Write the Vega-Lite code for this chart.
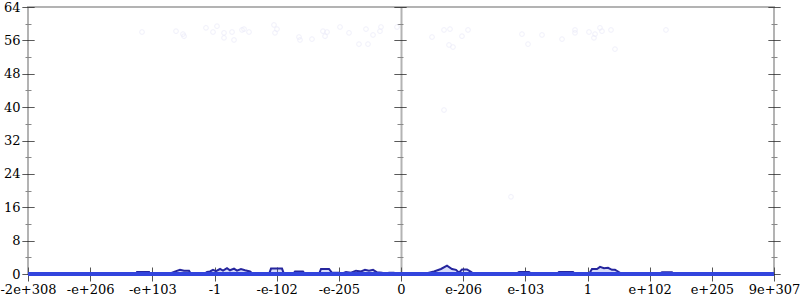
{
  "$schema": "https://vega.github.io/schema/vega-lite/v6.json",
  "width": 746,
  "height": 267,
  "autosize": {"type": "none"},
  "padding": {"left": 28, "top": 7, "right": 26, "bottom": 26},
  "config": {
    "view": {"stroke": "#b3b3b3", "strokeWidth": 2},
    "font": "DejaVu Serif",
    "axis": {"labelFont": "DejaVu Serif", "labelFontSize": 13, "labelColor": "#000", "title": null}
  },
  "datasets": {
    "line": [
      {"u": -6, "n": 0}, {"u": -4.262, "n": 0}, {"u": -4.246, "n": 0.5}, {"u": -4.053, "n": 0.5}, {"u": -4.037, "n": 0},
      {"u": -3.732, "n": 0}, {"u": -3.651, "n": 0.5}, {"u": -3.555, "n": 1.0}, {"u": -3.49, "n": 0.8}, {"u": -3.41, "n": 0.8}, {"u": -3.378, "n": 0},
      {"u": -3.169, "n": 0}, {"u": -3.12, "n": 0.5}, {"u": -3.072, "n": 0.6}, {"u": -3.024, "n": 1.0}, {"u": -2.976, "n": 0.7}, {"u": -2.911, "n": 1.2}, {"u": -2.863, "n": 0.8}, {"u": -2.799, "n": 1.4}, {"u": -2.751, "n": 0.9}, {"u": -2.686, "n": 1.3}, {"u": -2.638, "n": 0.8}, {"u": -2.574, "n": 1.2}, {"u": -2.509, "n": 0.9}, {"u": -2.429, "n": 0.6}, {"u": -2.381, "n": 0},
      {"u": -2.123, "n": 0}, {"u": -2.091, "n": 1.3}, {"u": -1.914, "n": 1.3}, {"u": -1.882, "n": 0},
      {"u": -1.737, "n": 0}, {"u": -1.705, "n": 0.6}, {"u": -1.576, "n": 0.6}, {"u": -1.544, "n": 0},
      {"u": -1.319, "n": 0}, {"u": -1.287, "n": 1.2}, {"u": -1.158, "n": 1.2}, {"u": -1.11, "n": 0.3}, {"u": -0.997, "n": 0.3}, {"u": -0.965, "n": 0}, {"u": -0.885, "n": 0.5}, {"u": -0.804, "n": 0.3}, {"u": -0.724, "n": 0.8}, {"u": -0.643, "n": 0.6}, {"u": -0.579, "n": 1.0}, {"u": -0.515, "n": 0.8}, {"u": -0.45, "n": 1.0}, {"u": -0.386, "n": 0.4}, {"u": -0.306, "n": 0.3}, {"u": -0.257, "n": 0}, {"u": -0.193, "n": 0.3}, {"u": -0.113, "n": 0.3}, {"u": -0.08, "n": 0},
      {"u": 0, "n": 0},
      {"u": 0.37, "n": 0}, {"u": 0.531, "n": 0.6}, {"u": 0.643, "n": 1.2}, {"u": 0.74, "n": 2.0}, {"u": 0.82, "n": 1.2}, {"u": 0.885, "n": 1.0}, {"u": 0.933, "n": 0.3}, {"u": 0.981, "n": 1.1}, {"u": 1.062, "n": 1.1}, {"u": 1.126, "n": 0.5}, {"u": 1.174, "n": 0},
      {"u": 1.85, "n": 0}, {"u": 1.898, "n": 0.5}, {"u": 2.059, "n": 0.5}, {"u": 2.107, "n": 0},
      {"u": 2.509, "n": 0}, {"u": 2.541, "n": 0.5}, {"u": 2.767, "n": 0.5}, {"u": 2.799, "n": 0},
      {"u": 3.024, "n": 0}, {"u": 3.072, "n": 1.2}, {"u": 3.153, "n": 1.2}, {"u": 3.201, "n": 1.7}, {"u": 3.265, "n": 1.4}, {"u": 3.33, "n": 1.5}, {"u": 3.394, "n": 1.0}, {"u": 3.442, "n": 1.0}, {"u": 3.491, "n": 0.6}, {"u": 3.555, "n": 0},
      {"u": 4.15, "n": 0}, {"u": 4.198, "n": 0.4}, {"u": 4.359, "n": 0.4}, {"u": 4.391, "n": 0},
      {"u": 6, "n": 0}
    ],
    "pts": [
      {"u": -4.166, "n": 58.0}, {"u": -3.619, "n": 58.2}, {"u": -3.507, "n": 57.5}, {"u": -3.49, "n": 57.0},
      {"u": -3.137, "n": 59.0}, {"u": -3.024, "n": 58.0}, {"u": -2.96, "n": 59.4}, {"u": -2.847, "n": 57.8},
      {"u": -2.847, "n": 56.6}, {"u": -2.718, "n": 58.0}, {"u": -2.686, "n": 56.1}, {"u": -2.558, "n": 58.5},
      {"u": -2.525, "n": 58.7}, {"u": -2.445, "n": 58.0}, {"u": -2.043, "n": 59.7}, {"u": -1.995, "n": 58.7},
      {"u": -2.027, "n": 57.8}, {"u": -1.641, "n": 56.8}, {"u": -1.625, "n": 56.1}, {"u": -1.432, "n": 56.3},
      {"u": -1.255, "n": 58.2}, {"u": -1.19, "n": 58.0}, {"u": -1.222, "n": 57.0}, {"u": -0.981, "n": 59.2},
      {"u": -0.836, "n": 57.8}, {"u": -0.676, "n": 55.1}, {"u": -0.563, "n": 58.7}, {"u": -0.531, "n": 55.1},
      {"u": -0.45, "n": 57.3}, {"u": -0.338, "n": 58.2}, {"u": -0.322, "n": 59.2}, {"u": -0.064, "n": 59.2},
      {"u": 0.499, "n": 56.8}, {"u": 0.692, "n": 58.5}, {"u": 0.788, "n": 58.7}, {"u": 0.772, "n": 54.9},
      {"u": 0.836, "n": 54.4}, {"u": 0.981, "n": 57.0}, {"u": 1.078, "n": 58.5}, {"u": 1.946, "n": 57.5},
      {"u": 2.043, "n": 55.1}, {"u": 2.268, "n": 57.3}, {"u": 2.59, "n": 56.3}, {"u": 2.799, "n": 58.5},
      {"u": 2.799, "n": 57.8}, {"u": 3.024, "n": 58.0}, {"u": 3.121, "n": 57.5}, {"u": 3.104, "n": 56.6},
      {"u": 3.201, "n": 59.0}, {"u": 3.233, "n": 58.2}, {"u": 3.378, "n": 58.5}, {"u": 3.442, "n": 53.9},
      {"u": 4.262, "n": 58.5}, {"u": 0.692, "n": 39.3}, {"u": 1.769, "n": 18.5}
    ]
  },
  "layer": [
    {
      "data": {"name": "line"},
      "mark": {"type": "area", "fill": "#4a5ae6", "fillOpacity": 0.22},
      "encoding": {
        "x": {
          "field": "u", "type": "quantitative",
          "scale": {"domain": [-6, 6], "nice": false, "zero": false},
          "axis": {
            "orient": "bottom", "offset": -7, "tickSize": 14, "domain": false,
            "values": [-6, -5, -4, -3, -2, -1, 0, 1, 2, 3, 4, 5, 6],
            "labelExpr": "['-2e+308','-e+206','-e+103','-1','-e-102','-e-205','0','e-206','e-103','1','e+102','e+205','9e+307'][datum.value + 6]",
            "labelFlush": false, "labelOverlap": false, "labelPadding": 2,
            "tickColor": "#555", "tickWidth": 1,
            "grid": true, "gridColor": "#b3b3b3", "gridWidth": 2,
            "gridOpacity": {"condition": {"test": "datum.value === 0", "value": 1}, "value": 0}
          }
        },
        "y": {
          "field": "n", "type": "quantitative",
          "scale": {"domain": [0, 64], "nice": false},
          "axis": {
            "orient": "left", "offset": -6, "tickSize": 12, "domain": false, "grid": false,
            "values": [0, 4, 8, 12, 16, 20, 24, 28, 32, 36, 40, 44, 48, 52, 56, 60, 64],
            "labelExpr": "datum.value % 8 === 0 ? datum.label : ''",
            "labelPadding": 2, "labelOverlap": false, "labelFlush": false,
            "tickColor": {"condition": {"test": "datum.value % 8 !== 0", "value": "#888"}, "value": "#222"},
            "tickDash": {"condition": {"test": "datum.value % 8 !== 0", "value": [0, 3, 6, 3]}, "value": [1, 0]}
          }
        }
      }
    },
    {
      "data": {"name": "line"},
      "mark": {"type": "line", "stroke": "#26269e", "strokeWidth": 2},
      "encoding": {
        "x": {"field": "u", "type": "quantitative", "axis": null},
        "y": {
          "field": "n", "type": "quantitative",
          "axis": {
            "orient": "right", "offset": -6, "tickSize": 12, "domain": false, "grid": false, "labels": false,
            "values": [0, 4, 8, 12, 16, 20, 24, 28, 32, 36, 40, 44, 48, 52, 56, 60, 64],
            "tickColor": {"condition": {"test": "datum.value % 8 !== 0", "value": "#888"}, "value": "#222"},
            "tickDash": {"condition": {"test": "datum.value % 8 !== 0", "value": [0, 3, 6, 3]}, "value": [1, 0]}
          }
        }
      }
    },
    {
      "data": {"name": "pts"},
      "mark": {"type": "point", "shape": "circle", "filled": false, "size": 22, "stroke": "#ebebfa", "strokeWidth": 1},
      "encoding": {
        "x": {"field": "u", "type": "quantitative", "axis": null},
        "y": {
          "field": "n", "type": "quantitative",
          "axis": {
            "orient": "right", "offset": -380, "tickSize": 12, "domain": false, "grid": false, "labels": false,
            "values": [0, 4, 8, 12, 16, 20, 24, 28, 32, 36, 40, 44, 48, 52, 56, 60, 64],
            "tickColor": {"condition": {"test": "datum.value % 8 !== 0", "value": "#888"}, "value": "#222"},
            "tickDash": {"condition": {"test": "datum.value % 8 !== 0", "value": [0, 3, 6, 3]}, "value": [1, 0]}
          }
        }
      }
    },
    {
      "data": {"name": "line"},
      "mark": {"type": "rule", "stroke": "#3345dd", "strokeWidth": 3},
      "encoding": {
        "y": {"datum": 0, "type": "quantitative", "axis": null}
      }
    }
  ],
  "resolve": {"axis": {"x": "independent", "y": "independent"}}
}
